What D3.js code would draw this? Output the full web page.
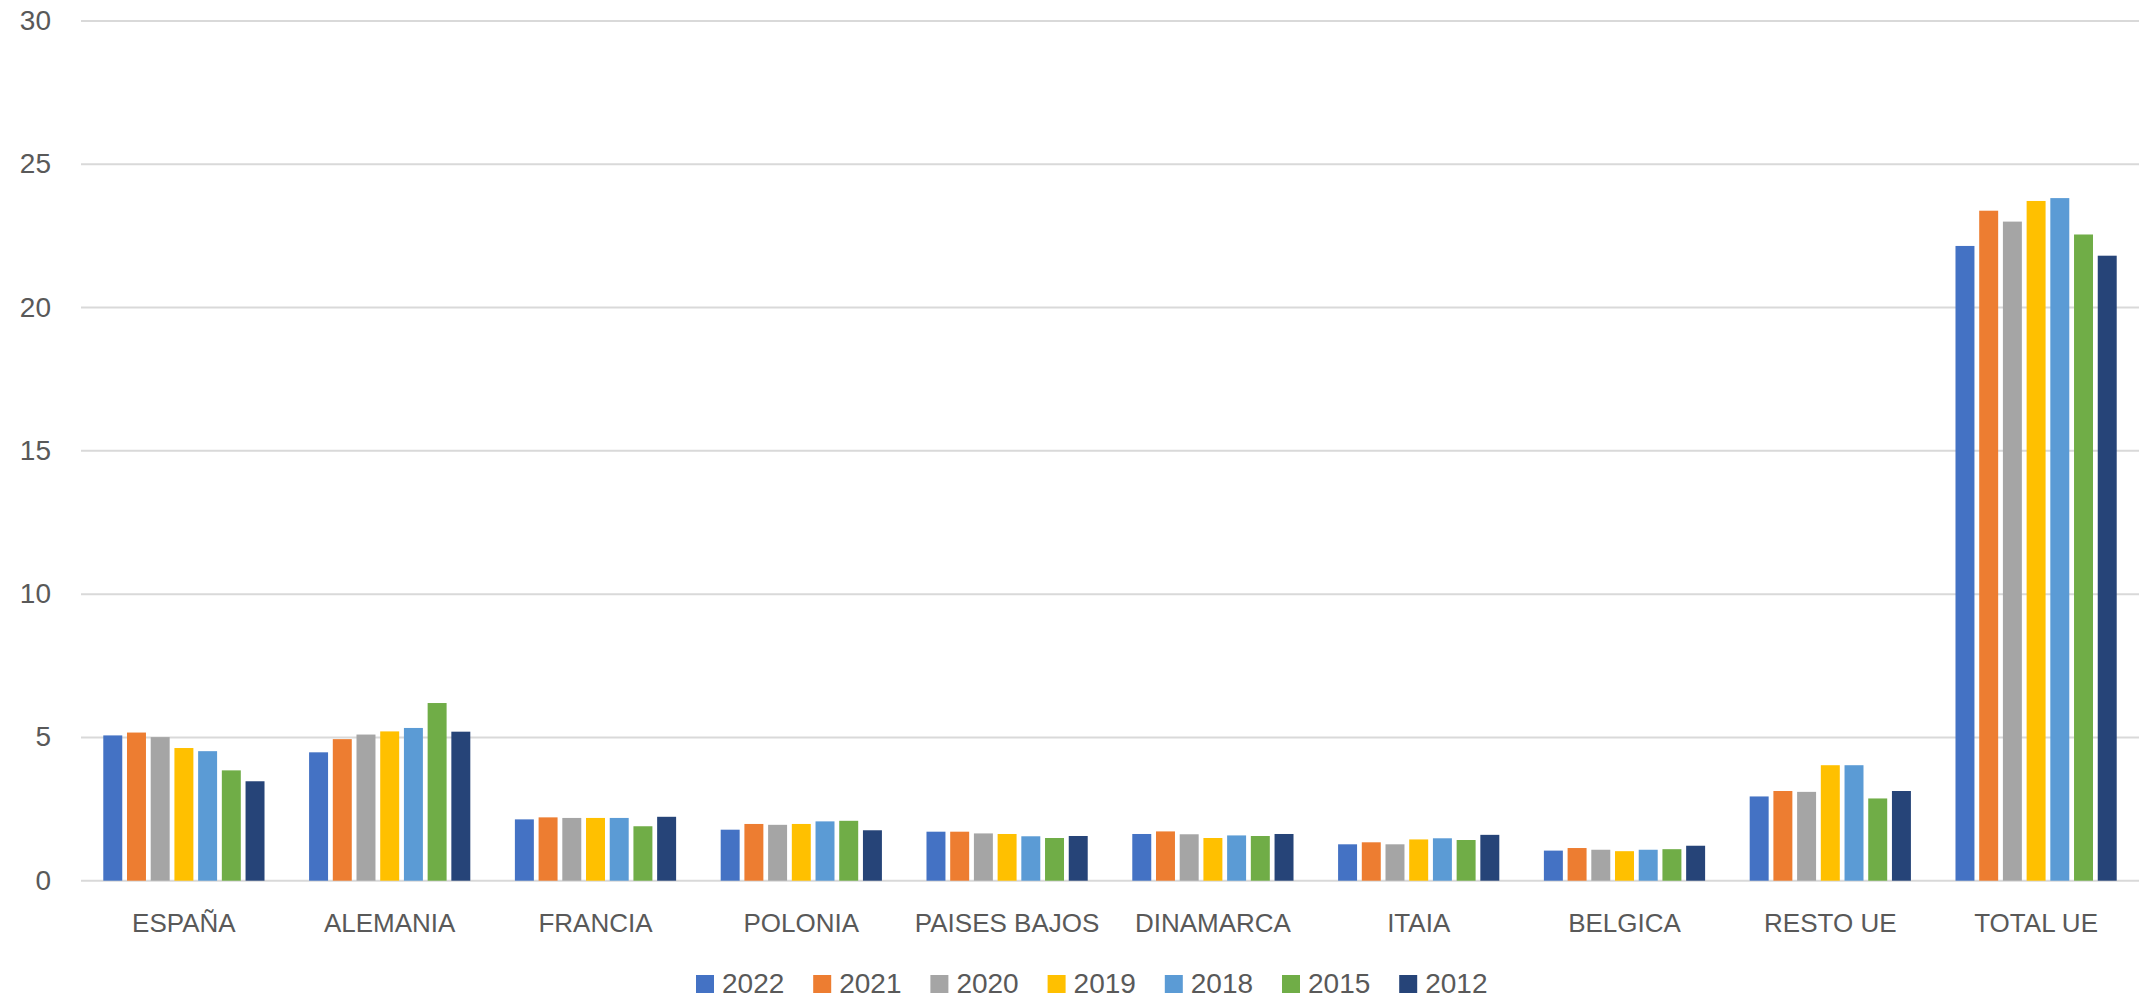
<!DOCTYPE html>
<html>
  <head>
    <meta charset="utf-8">
    <title>Grouped bars by country</title>
    <style>
      body { margin: 0; background: #fff; }
      text { fill: #595959; font-family: "Liberation Sans", Arial, sans-serif; }
      .grid line { stroke: #d9d9d9; stroke-width: 2px; }
    </style>
  </head>
  <body>
    <div id="chart"></div>
    <script src="https://d3js.org/d3.v7.min.js"></script>
    <script>
      // Categories and series
      const categories = ["ESPAÑA", "ALEMANIA", "FRANCIA", "POLONIA", "PAISES BAJOS",
                          "DINAMARCA", "ITAIA", "BELGICA", "RESTO UE", "TOTAL UE"];
      const years = ["2022", "2021", "2020", "2019", "2018", "2015", "2012"];
      const colors = ["#4472c4", "#ed7d31", "#a5a5a5", "#ffc000", "#5b9bd5", "#70ad47", "#264478"];

      // values per year, one per category
      const v2022 = [5.07, 4.48, 2.14, 1.78, 1.71, 1.63, 1.27, 1.05, 2.94, 22.15];
      const v2021 = [5.17, 4.94, 2.21, 1.98, 1.71, 1.72, 1.34, 1.14, 3.13, 23.38];
      const v2020 = [5.01, 5.10, 2.19, 1.95, 1.65, 1.62, 1.27, 1.08, 3.10, 23.00];
      const v2019 = [4.63, 5.21, 2.19, 1.98, 1.63, 1.49, 1.44, 1.03, 4.03, 23.72];
      const v2018 = [4.52, 5.33, 2.19, 2.07, 1.55, 1.58, 1.48, 1.08, 4.03, 23.82];
      const v2015 = [3.85, 6.20, 1.90, 2.09, 1.49, 1.56, 1.42, 1.10, 2.87, 22.55];
      const v2012 = [3.47, 5.20, 2.23, 1.76, 1.56, 1.63, 1.60, 1.22, 3.13, 21.81];
      const series = [v2022, v2021, v2020, v2019, v2018, v2015, v2012];

      const yTicks = [0, 5, 10, 15, 20, 25, 30];

      const width = 2139, height = 999;
      const plotLeft = 81, plotRight = 2139, plotTop = 21, plotBottom = 880.7;

      const svg = d3.select("#chart").append("svg")
          .attr("width", width)
          .attr("height", height);

      const x0 = d3.scaleBand().domain(categories).range([plotLeft, plotRight]);
      const x1 = d3.scaleBand().domain(years).range([0, x0.bandwidth()])
          .paddingInner(0.2).paddingOuter(0.94);
      const y = d3.scaleLinear().domain([0, 30]).range([plotBottom, plotTop]);

      // gridlines
      svg.append("g").attr("class", "grid")
        .selectAll("line")
        .data(yTicks)
        .join("line")
          .attr("x1", plotLeft).attr("x2", plotRight)
          .attr("y1", d => y(d)).attr("y2", d => y(d));

      // y labels
      svg.append("g")
        .selectAll("text")
        .data(yTicks)
        .join("text")
          .attr("x", 51)
          .attr("y", d => y(d) + 9)
          .attr("text-anchor", "end")
          .style("font-size", "28px")
          .text(d => d);

      // bars
      const groups = svg.append("g")
        .selectAll("g")
        .data(categories)
        .join("g")
          .attr("transform", d => `translate(${x0(d)},0)`);

      groups.selectAll("rect")
        .data((c, i) => years.map((yr, k) => ({ yr, k, v: series[k][i] })))
        .join("rect")
          .attr("x", d => x1(d.yr))
          .attr("width", x1.bandwidth())
          .attr("y", d => y(d.v))
          .attr("height", d => y(0) - y(d.v))
          .attr("fill", d => colors[d.k]);

      // category labels
      svg.append("g")
        .selectAll("text")
        .data(categories)
        .join("text")
          .attr("x", d => x0(d) + x0.bandwidth() / 2)
          .attr("y", 932)
          .attr("text-anchor", "middle")
          .style("font-size", "26px")
          .text(d => d);

      // legend
      const legend = svg.append("g")
        .selectAll("g")
        .data(years)
        .join("g")
          .attr("transform", (d, i) => `translate(${696 + i * 117.2},975)`);

      legend.append("rect")
          .attr("width", 18).attr("height", 18)
          .attr("fill", (d, i) => colors[i]);

      legend.append("text")
          .attr("x", 26)
          .attr("y", 18)
          .style("font-size", "28px")
          .text(d => d);
    </script>
  </body>
</html>
